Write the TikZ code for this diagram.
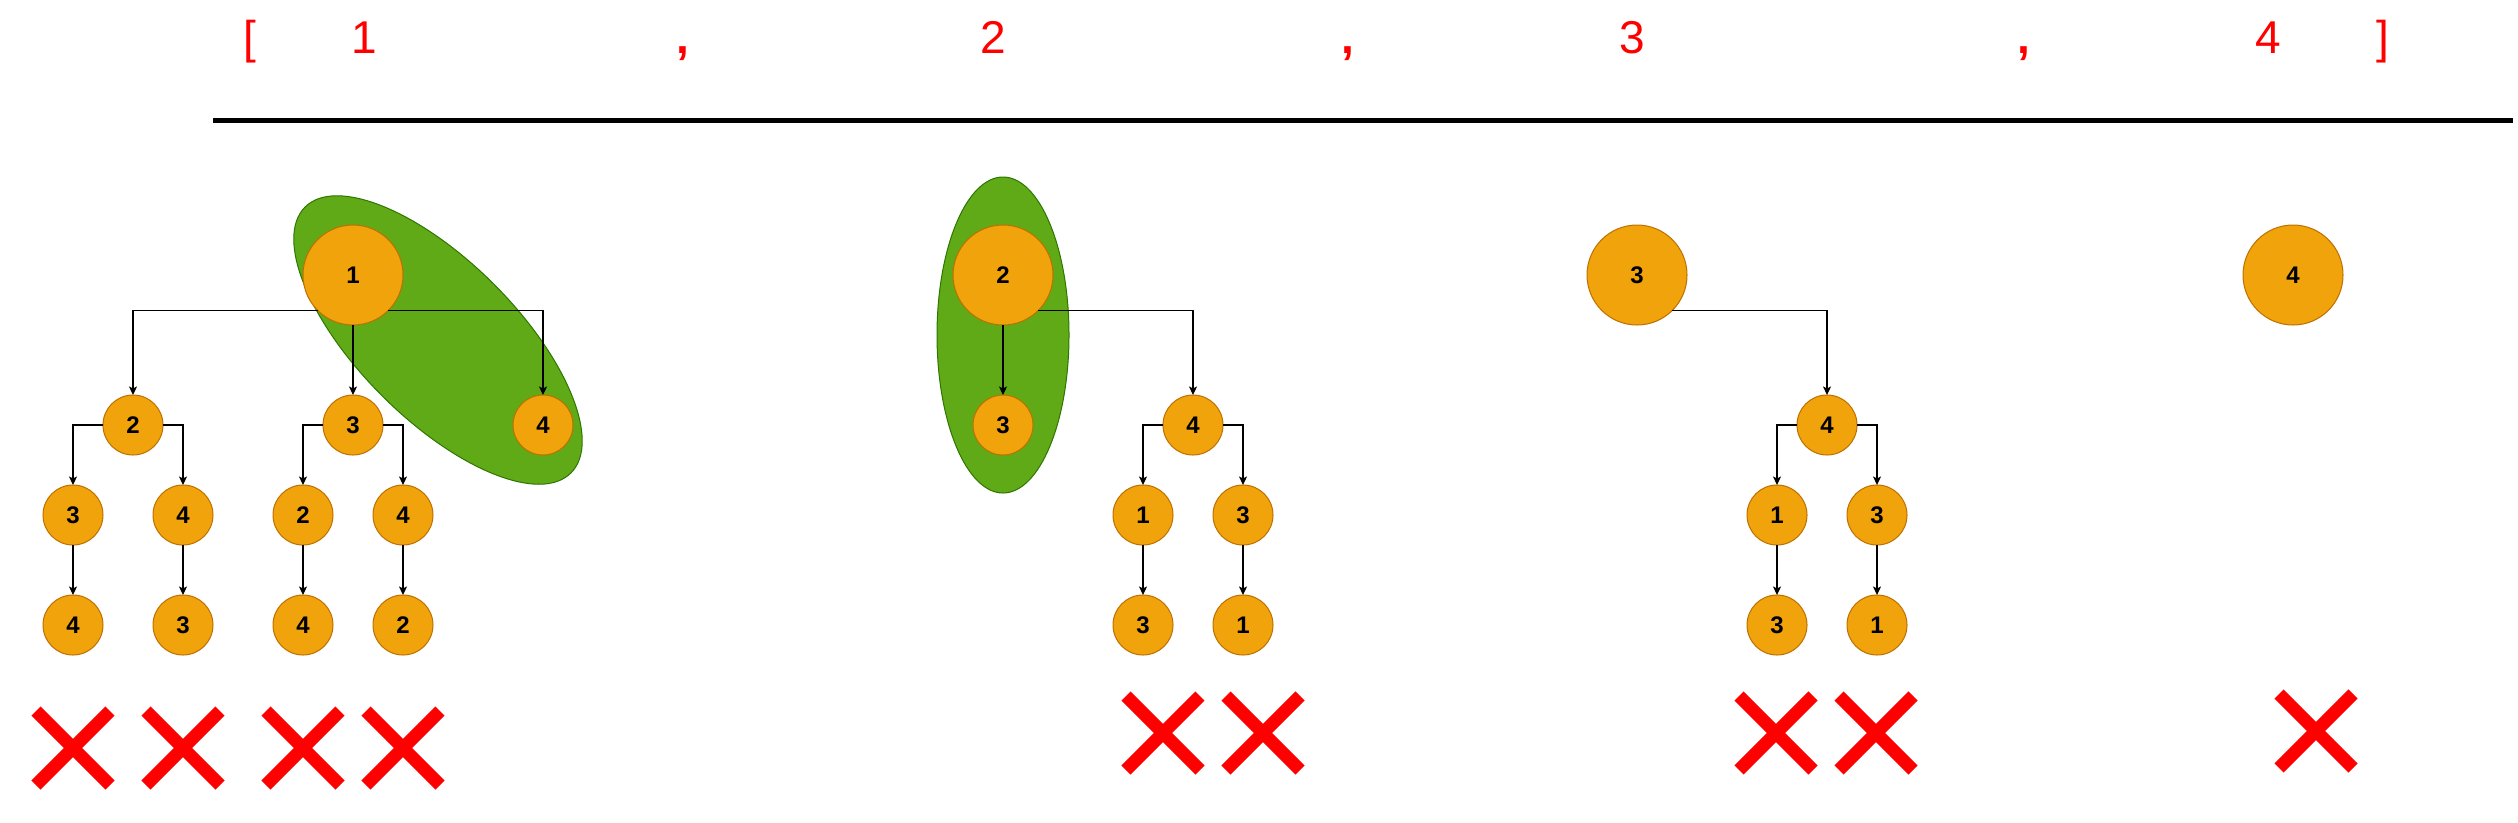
\documentclass[tikz,border=0pt]{standalone}
\usepackage{fontspec}
\setmainfont{Liberation Sans}
\usetikzlibrary{arrows.meta,shapes.geometric}
\definecolor{nodefill}{HTML}{F0A30A}
\definecolor{nodeline}{HTML}{BD7000}
\definecolor{grpfill}{HTML}{60A917}
\definecolor{grpline}{HTML}{2D7600}
\begin{document}
\begin{tikzpicture}[x=0.4pt,y=-0.4pt,
 big/.style={circle,draw=nodeline,fill=nodefill,line width=0.4pt,minimum size=40pt,inner sep=0pt,outer sep=0pt,font=\fontsize{9.6}{11}\selectfont\bfseries},
 small/.style={big,minimum size=24pt},
 edge/.style={draw=black,line width=0.5pt,-{Stealth[length=3.4pt,width=3.2pt,inset=0.8pt]}},
 grp/.style={ellipse,draw=grpline,fill=grpfill,line width=0.4pt,inner sep=0pt},
 toplabel/.style={text=red,font=\fontsize{18.4}{22}\selectfont,anchor=base,inner sep=0pt},
 sep/.style={toplabel,font=\fontsize{18.4}{22}\selectfont\bfseries},
 redx/.pic={\draw[red,line width=5.2pt] (-37,-37)--(37,37) (-37,37)--(37,-37);}
]
\useasboundingbox (0,0) rectangle (2518,822);
% top list
\node[toplabel] (lb) at (250,53) {[};
\node[toplabel] (l1) at (364,53) {1};
\node[sep] (c1s) at (683,53) {,};
\node[toplabel] (l2) at (993,53) {2};
\node[sep] (c2s) at (1348,53) {,};
\node[toplabel] (l3) at (1632,53) {3};
\node[sep] (c3s) at (2024,53) {,};
\node[toplabel] (l4) at (2268,53) {4};
\node[toplabel] (rb) at (2383,53) {]};
\coordinate (ruleL) at (213,120.5);
\coordinate (ruleR) at (2513,120.5);
\draw[line width=2pt] (ruleL) -- (ruleR);
% groups
\node[grp,minimum width=150.4pt,minimum height=63.2pt,rotate=-45] (g1) at (438,340) {};
\node[grp,minimum width=52.8pt,minimum height=126.4pt] (g2) at (1003,335) {};
% tree 1
\node[big] (a1) at (353,275) {1};
\node[small] (a2) at (133,425) {2};
\node[small] (a3) at (353,425) {3};
\node[small] (a4) at (543,425) {4};
\node[small] (a23) at (73,515) {3};
\node[small] (a24) at (183,515) {4};
\node[small] (a32) at (303,515) {2};
\node[small] (a34) at (403,515) {4};
\node[small] (a234) at (73,625) {4};
\node[small] (a243) at (183,625) {3};
\node[small] (a324) at (303,625) {4};
\node[small] (a342) at (403,625) {2};
\draw[edge] (a1.south west) -| (a2);
\draw[edge] (a1) -- (a3);
\draw[edge] (a1.south east) -| (a4);
\draw[edge] (a2.west) -| (a23);
\draw[edge] (a2.east) -| (a24);
\draw[edge] (a3.west) -| (a32);
\draw[edge] (a3.east) -| (a34);
\draw[edge] (a23) -- (a234);
\draw[edge] (a24) -- (a243);
\draw[edge] (a32) -- (a324);
\draw[edge] (a34) -- (a342);
% tree 2
\node[big] (b1) at (1003,275) {2};
\node[small] (b3) at (1003,425) {3};
\node[small] (b4) at (1193,425) {4};
\node[small] (b41) at (1143,515) {1};
\node[small] (b43) at (1243,515) {3};
\node[small] (b413) at (1143,625) {3};
\node[small] (b431) at (1243,625) {1};
\draw[edge] (b1) -- (b3);
\draw[edge] (b1.south east) -| (b4);
\draw[edge] (b4.west) -| (b41);
\draw[edge] (b4.east) -| (b43);
\draw[edge] (b41) -- (b413);
\draw[edge] (b43) -- (b431);
% tree 3
\node[big] (c1) at (1637,275) {3};
\node[small] (c4) at (1827,425) {4};
\node[small] (c41) at (1777,515) {1};
\node[small] (c43) at (1877,515) {3};
\node[small] (c413) at (1777,625) {3};
\node[small] (c431) at (1877,625) {1};
\draw[edge] (c1.south east) -| (c4);
\draw[edge] (c4.west) -| (c41);
\draw[edge] (c4.east) -| (c43);
\draw[edge] (c41) -- (c413);
\draw[edge] (c43) -- (c431);
% tree 4
\node[big] (d1) at (2293,275) {4};
% red crosses
\pic at (73,748) {redx};
\pic at (183,748) {redx};
\pic at (303,748) {redx};
\pic at (403,748) {redx};
\pic at (1163,733) {redx};
\pic at (1263,733) {redx};
\pic at (1776,733) {redx};
\pic at (1876,733) {redx};
\pic at (2316,731) {redx};
\end{tikzpicture}
\end{document}
